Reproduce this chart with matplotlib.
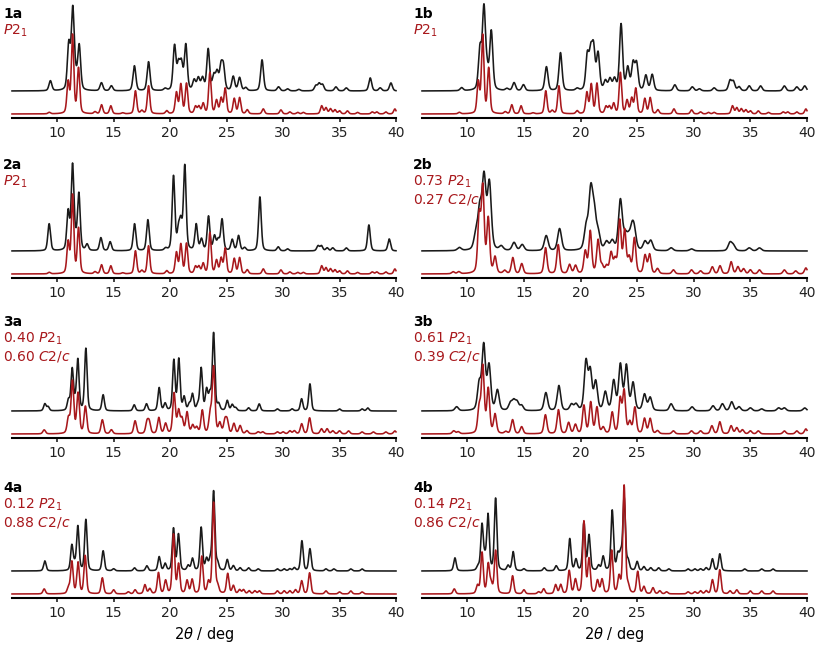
import numpy as np
import matplotlib
matplotlib.use("Agg")
import matplotlib.pyplot as plt

# peak lists: position (deg 2theta), apparent height (px above baseline)
b1a_x = [9.4, 11.03, 11.38, 11.65, 11.95, 13.92, 14.8, 16.84, 18.09, 19.56, 20.39, 20.74, 21.0, 21.39,
         22.13, 22.5, 22.87, 23.37, 23.87, 24.16, 24.5, 24.72, 25.59, 26.15, 26.7, 28.14, 29.6, 30.4,
         31.4, 32.9, 33.2, 33.5, 34.68, 35.6, 37.72, 38.6, 39.55]
b1a_h = [10, 45, 80, 10, 44, 8, 5, 25, 29, 2, 44, 24, 25, 45, 10, 12, 12, 41, 14, 17, 22, 22, 14, 13,
         3, 31, 4, 2, 1.5, 5, 7, 6, 4, 3, 13, 3, 8]

# simulated P2_1 pattern (used for 1a, 1b, 2a)
rP21_x = [9.3, 10.97, 11.36, 11.89, 13.35, 13.93, 14.75, 15.8, 16.93, 17.5, 18.09, 19.7, 20.56, 20.95,
          21.45, 22.25, 22.55, 22.93, 23.52, 24.11, 24.52, 24.88, 25.68, 26.15, 26.83, 28.25, 29.81,
          30.6, 31.3, 31.8, 33.42, 33.8, 34.2, 34.6, 35.0, 35.7, 36.6, 37.9, 38.3, 39.1, 39.9]
rP21_h = [1.5, 31, 78, 45, 2, 9, 8, 1, 23, 3, 28, 3, 21, 29, 30, 7, 7, 10, 41, 13, 15, 25, 15, 16, 4,
          5, 4, 2, 1.5, 1.5, 8, 6, 5, 4, 3, 3, 1.5, 2, 2, 2, 5]

b1b_x = [9.5, 11.12, 11.47, 11.75, 12.12, 13.5, 14.13, 14.96, 16.99, 18.23, 19.7, 20.6, 20.9, 21.15,
         21.55, 22.2, 22.6, 23.0, 23.58, 24.17, 24.64, 24.95, 25.77, 26.33, 28.33, 29.87, 30.5, 31.8,
         33.2, 33.5, 34.0, 34.9, 35.9, 38.0, 39.1, 39.8]
b1b_h = [3, 40, 80, 16, 58, 2, 8, 6, 24, 38, 2, 34, 34, 39, 36, 9, 11, 11, 66, 22, 26, 26, 15, 16, 6,
         4, 2, 3, 10, 9, 4, 5, 5, 5, 4, 5]

b2a_x = [9.29, 10.97, 11.36, 11.62, 11.92, 12.65, 13.87, 14.69, 16.85, 18.03, 19.6, 20.3, 20.74, 20.95,
         21.3, 22.31, 22.78, 23.4, 23.93, 24.26, 24.6, 25.5, 26.06, 26.6, 27.95, 29.57, 30.4, 33.1,
         33.4, 33.9, 34.4, 35.6, 37.6, 39.4]
b2a_h = [27, 38, 84, 8, 56, 6, 13, 9, 27, 31, 2, 74, 18, 25, 84, 26, 11, 34, 14, 10, 31, 11, 15, 3,
         54, 4, 2, 5, 5, 3, 3, 3, 26, 12]

b2b_x = [9.3, 10.75, 11.1, 11.48, 11.95, 13.0, 14.13, 14.85, 16.97, 18.15, 20.5, 20.9, 21.2, 21.55,
         22.3, 22.8, 23.52, 23.95, 24.25, 24.55, 24.75, 25.7, 26.2, 28.0, 29.8, 33.2, 33.5, 34.9, 35.8]
b2b_h = [3, 14, 38, 70, 66, 4, 8, 6, 15, 22, 22, 56, 34, 16, 8, 9, 50, 13, 10, 18, 16, 9, 10, 3, 2,
         8, 5, 3, 3]

r2b_x = [8.75, 9.25, 11.05, 11.37, 11.85, 12.45, 13.3, 14.02, 14.81, 16.91, 18.03, 19.03, 19.56, 20.42,
         20.86, 21.55, 21.9, 22.3, 22.7, 23.05, 23.46, 23.9, 24.3, 24.76, 25.7, 26.1, 26.8, 28.2, 29.8,
         30.6, 31.64, 32.32, 33.3, 33.9, 34.4, 35.0, 35.8, 38.0, 39.0, 39.9]
r2b_h = [2, 2, 56, 84, 54, 16, 3, 16, 10, 26, 29, 9, 8, 22, 42, 33, 7, 7, 20, 13, 52, 42, 15, 35, 18,
         19, 5, 4, 4, 3, 7, 8, 12, 7, 5, 4, 4, 4, 3, 6]

b3a_x = [8.91, 9.2, 11.0, 11.33, 11.6, 11.83, 12.54, 14.07, 16.82, 17.91, 19.03, 19.56, 20.33, 20.77,
         21.24, 21.7, 21.98, 22.45, 22.75, 23.23, 23.52, 23.85, 24.3, 25.06, 25.5, 25.8, 26.95, 27.89,
         29.5, 30.8, 31.64, 32.38, 35.0, 37.0, 37.5]
b3a_h = [7, 4, 10, 41, 6, 50, 62, 16, 6, 7, 23, 7, 50, 51, 13, 6, 16, 5, 42, 20, 15, 77, 6, 10, 6, 3,
         3, 7, 2, 2, 12, 27, 2, 2, 3]

r3a_x = [8.85, 11.0, 11.35, 11.85, 12.5, 14.0, 14.8, 16.9, 17.95, 18.15, 19.0, 19.6, 20.35, 20.75,
         21.05, 21.5, 22.0, 22.35, 22.85, 23.55, 23.85, 24.4, 24.85, 25.05, 25.65, 26.2, 26.8, 27.8,
         28.2, 29.5, 30.0, 30.6, 31.0, 31.65, 32.35, 33.4, 33.9, 34.4, 35.0, 35.8, 37.0, 38.0, 39.1, 39.9]
r3a_h = [4, 15, 52, 40, 27, 14, 4, 13, 11, 11, 16, 10, 40, 22, 14, 21, 8, 6, 23, 19, 66, 10, 12, 12,
         10, 8, 3, 2, 2, 2, 2, 3, 3, 10, 16, 5, 5, 3, 3, 3, 2, 2, 2, 3]

b3b_x = [9.06, 11.05, 11.45, 11.92, 12.66, 13.8, 14.1, 14.4, 14.8, 16.94, 18.09, 19.2, 19.6, 20.48,
         20.86, 21.34, 22.19, 22.93, 23.52, 24.05, 24.64, 25.65, 26.15, 28.0, 29.85, 31.7, 32.53,
         33.35, 34.0, 35.0, 36.0, 37.5, 38.0, 39.8]
b3b_h = [4, 26, 64, 44, 20, 7, 9, 8, 5, 18, 25, 6, 6, 48, 38, 28, 18, 29, 45, 44, 27, 16, 13, 7, 4,
         5, 7, 9, 4, 3, 2, 3, 3, 3]

r3b_x = [8.8, 9.2, 11.05, 11.37, 11.85, 12.45, 13.4, 14.0, 14.8, 16.9, 18.05, 18.95, 19.55, 20.3, 20.9,
         21.45, 22.0, 22.8, 23.5, 23.85, 24.35, 24.8, 25.65, 26.15, 26.8, 28.2, 29.8, 30.6, 31.6, 32.3,
         33.3, 33.8, 34.3, 35.0, 35.7, 38.0, 39.1, 39.9]
r3b_h = [3, 2, 25, 66, 44, 19, 2, 14, 7, 19, 24, 11, 9, 28, 31, 26, 6, 21, 34, 42, 11, 26, 15, 15, 3,
         3, 3, 3, 8, 12, 8, 6, 4, 3, 3, 3, 3, 5]

b4a_x = [8.91, 11.3, 11.55, 11.83, 12.54, 14.07, 15.0, 16.85, 17.94, 19.03, 19.56, 20.3, 20.74, 21.6,
         21.98, 22.75, 23.23, 23.55, 23.85, 24.2, 25.06, 25.6, 26.2, 26.95, 27.8, 29.5, 30.1, 30.6,
         31.0, 31.67, 32.38, 33.8, 34.5, 36.0, 37.0]
b4a_h = [10, 25, 5, 44, 51, 20, 2, 3, 5, 14, 7, 42, 36, 5, 12, 43, 11, 9, 79, 7, 11, 5, 3, 3, 2, 2,
         2, 2, 3, 30, 22, 2, 2, 2, 2]

r4a_x = [8.85, 11.0, 11.3, 11.85, 12.48, 14.0, 15.0, 16.3, 16.9, 17.77, 18.2, 18.97, 19.6, 20.3, 20.75,
         21.5, 21.95, 22.8, 23.4, 23.85, 24.2, 25.1, 25.6, 26.15, 26.5, 27.0, 27.5, 27.9, 29.5, 30.1,
         30.6, 31.1, 31.65, 32.35, 33.8, 35.0, 36.0, 37.0]
r4a_h = [5, 6, 32, 31, 38, 16, 4, 2, 4, 9, 5, 21, 13, 59, 29, 13, 14, 37, 11, 91, 7, 20, 8, 4, 4, 3,
         3, 3, 3, 3, 3, 4, 13, 21, 3, 2, 3, 2]

b4b_x = [8.91, 10.95, 11.3, 11.55, 11.83, 12.5, 13.6, 14.05, 15.0, 16.8, 17.85, 19.05, 19.6, 20.3,
         20.75, 21.6, 22.0, 22.8, 23.3, 23.55, 23.85, 24.2, 25.0, 25.6, 26.2, 26.9, 27.8, 29.5, 30.1,
         30.6, 31.1, 31.65, 32.3, 34.5, 36.0, 37.0]
b4b_h = [13, 4, 45, 10, 55, 72, 5, 19, 2, 3, 5, 32, 11, 48, 35, 5, 14, 60, 15, 15, 72, 9, 9, 4, 3,
         3, 2, 2, 2, 2, 3, 12, 17, 2, 2, 2]

r4b_x = [8.85, 10.9, 11.3, 11.85, 12.1, 12.5, 14.0, 15.0, 16.3, 16.75, 17.8, 18.25, 19.0, 19.55, 20.3,
         20.75, 21.5, 21.9, 22.75, 23.4, 23.85, 24.2, 25.05, 25.6, 26.4, 27.0, 27.6, 29.5, 30.1, 30.6,
         31.1, 31.65, 32.3, 33.2, 33.8, 35.0, 36.0, 37.0]
r4b_h = [5, 8, 41, 29, 9, 43, 18, 4, 2, 5, 9, 9, 23, 14, 72, 34, 13, 14, 43, 16, 108, 7, 22, 7, 6,
         3, 2, 2, 2, 3, 3, 14, 24, 3, 4, 3, 3, 3]

labels = ["1a", "1b", "2a", "2b", "3a", "3b", "4a", "4b"]
phase_text = [[r"$P$2$_1$"], [r"$P$2$_1$"], [r"$P$2$_1$"],
              [r"0.73 $P$2$_1$", r"0.27 $C$2/$c$"],
              [r"0.40 $P$2$_1$", r"0.60 $C$2/$c$"],
              [r"0.61 $P$2$_1$", r"0.39 $C$2/$c$"],
              [r"0.12 $P$2$_1$", r"0.88 $C$2/$c$"],
              [r"0.14 $P$2$_1$", r"0.86 $C$2/$c$"]]

RED = "#a8181c"
BLK = "#1a1a1a"
OFFSET = 23  # black trace sits above the simulated one


def pattern(x, pos, hts, fwhm, eta=0.35):
    y = np.zeros_like(x)
    for p, h in zip(pos, hts):
        d = (x - p) / fwhm
        y += h * (eta / (1 + 4 * d**2) + (1 - eta) * np.exp(-4 * np.log(2) * d**2))
    return y


# (black peaks, black fwhm, red peaks, red fwhm)
panels = [
    (b1a_x, b1a_h, 0.30, rP21_x, rP21_h, 0.26),
    (b1b_x, b1b_h, 0.32, rP21_x, rP21_h, 0.26),
    (b2a_x, b2a_h, 0.28, rP21_x, rP21_h, 0.26),
    (b2b_x, b2b_h, 0.40, r2b_x, r2b_h, 0.30),
    (b3a_x, b3a_h, 0.26, r3a_x, r3a_h, 0.28),
    (b3b_x, b3b_h, 0.36, r3b_x, r3b_h, 0.30),
    (b4a_x, b4a_h, 0.26, r4a_x, r4a_h, 0.26),
    (b4b_x, b4b_h, 0.26, r4b_x, r4b_h, 0.26),
]

W, H = 817, 651
fig = plt.figure(figsize=(W / 100, H / 100), dpi=100)
x = np.linspace(6, 40, 3400)
col_left = [12, 422]
col_w = [384, 385]
label_top = [14, 165, 322, 488]

for i, (bx, bh, bw, rx, rh, rw) in enumerate(panels):
    row, col = divmod(i, 2)
    axis_y = 118 + 160 * row
    ax = fig.add_axes([col_left[col] / W, 1 - axis_y / H, col_w[col] / W, 118 / H])
    ax.plot(x, pattern(x, bx, bh, bw) + OFFSET, color=BLK, lw=1.15, clip_on=False)
    ax.plot(x, pattern(x, rx, rh, rw), color=RED, lw=1.15, clip_on=False)
    ax.set_xlim(6, 40)
    ax.set_ylim(-4, 114)
    ax.set_xticks([10, 15, 20, 25, 30, 35, 40])
    ax.set_yticks([])
    for s in ["top", "right", "left"]:
        ax.spines[s].set_visible(False)
    ax.spines["bottom"].set_linewidth(1.5)
    ax.tick_params(axis="x", length=3, width=1.2, pad=3, labelsize=10, colors="#222222")
    ax.patch.set_alpha(0)
    if row == 3:
        ax.set_xlabel(r"2$\theta$ / deg", fontsize=10.5, labelpad=3)

    tx = (3 if col == 0 else 413) / W
    y0 = label_top[row]
    fig.text(tx, 1 - y0 / H, labels[i], fontsize=10, fontweight="bold", va="center", color="black")
    for k, t in enumerate(phase_text[i]):
        fig.text(tx, 1 - (y0 + 17 * (k + 1)) / H, t, fontsize=10, va="center", color=RED)

fig.savefig("out.png", dpi=100)
